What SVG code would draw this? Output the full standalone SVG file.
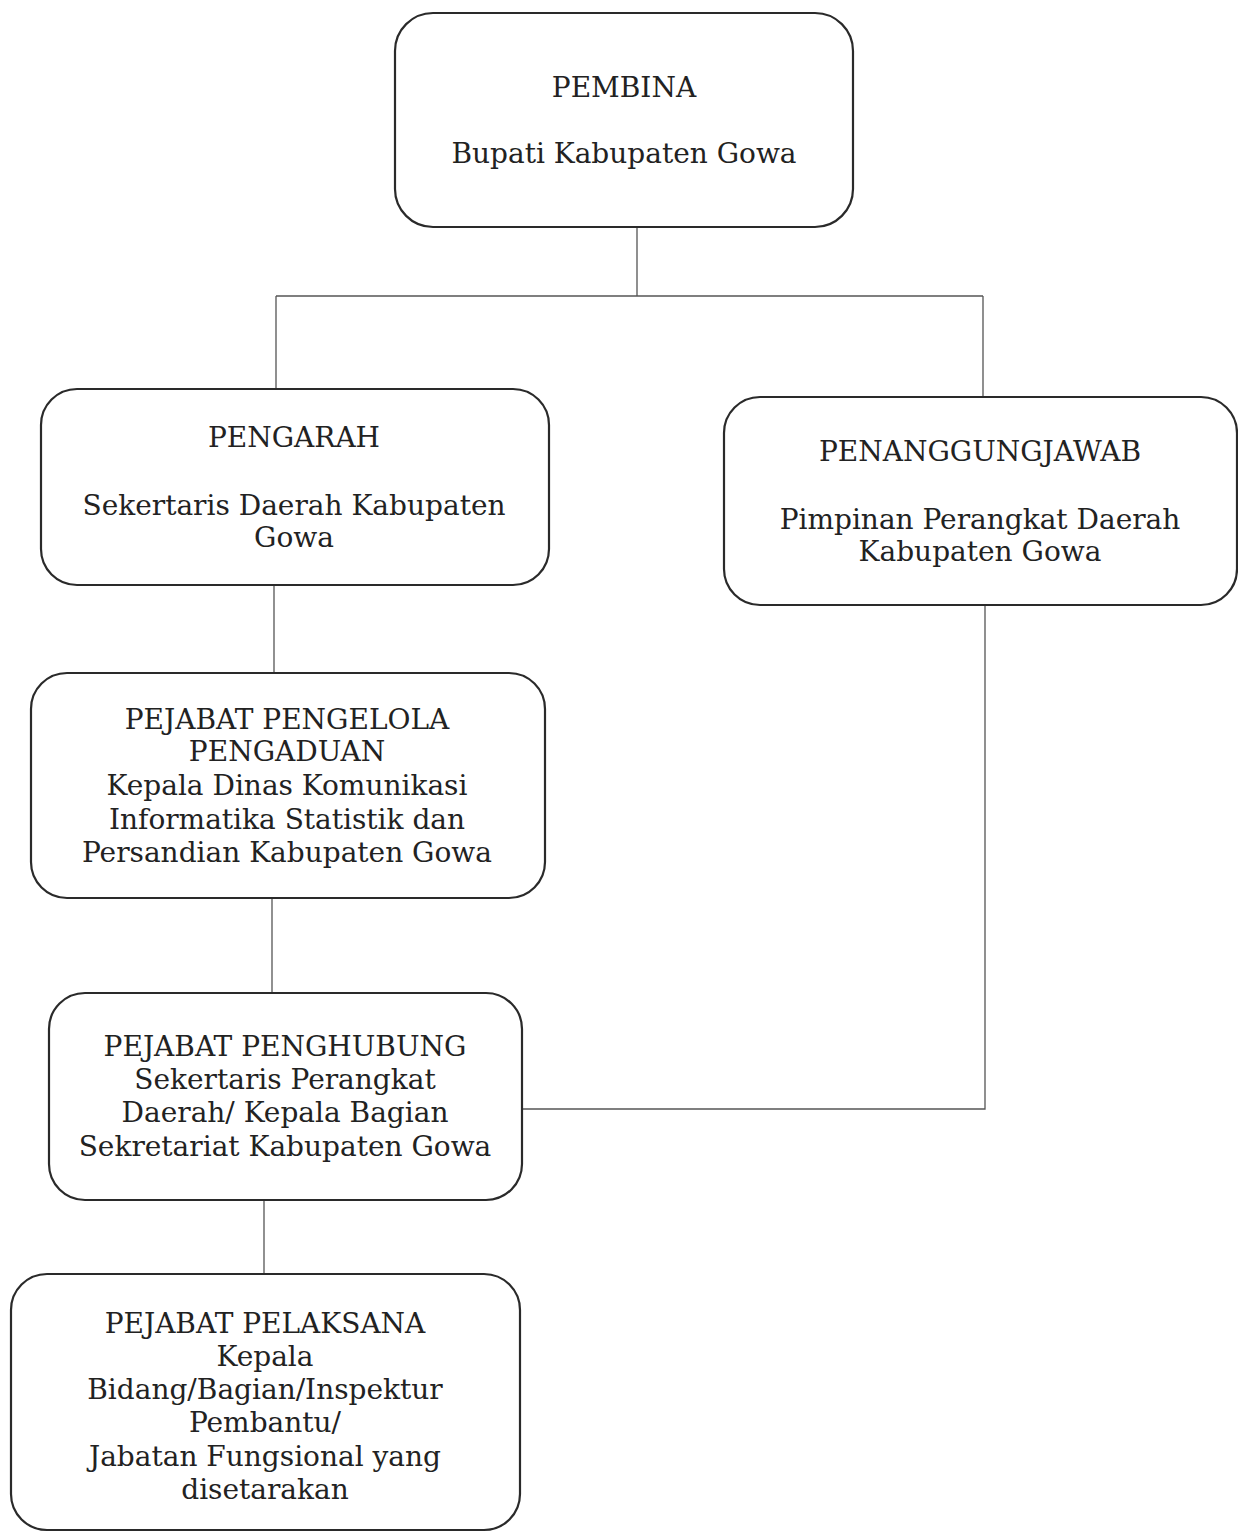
<svg xmlns="http://www.w3.org/2000/svg" width="1238" height="1533" viewBox="0 0 1238 1533">
<style>
.box{fill:#fff;stroke:#2a2a2a;stroke-width:2.2}
.t{font-family:"DejaVu Serif","Liberation Serif",serif;font-size:28px;fill:#222;text-anchor:middle}
.c{fill:none;stroke:#555;stroke-width:1.3}
</style>
<rect width="1238" height="1533" fill="#fff"/>
<g id="connectors">
<path class="c" d="M637 227 V296 M276 296 H983 M276 296 V388 M983 296 V396"/>
<path class="c" d="M274 585 V672"/>
<path class="c" d="M272 898 V992"/>
<path class="c" d="M264 1200 V1273"/>
<path class="c" d="M985 605 V1109 H522"/>
</g>
<g id="pembina">
<rect class="box" x="395" y="13" width="458" height="214" rx="38"/>
<text class="t" x="624" y="97">PEMBINA</text>
<text class="t" x="624" y="163">Bupati Kabupaten Gowa</text>
</g>
<g id="pengarah">
<rect class="box" x="41" y="389" width="508" height="196" rx="36"/>
<text class="t" x="294" y="447">PENGARAH</text>
<text class="t" x="294" y="515">Sekertaris Daerah Kabupaten</text>
<text class="t" x="294" y="547">Gowa</text>
</g>
<g id="penanggungjawab">
<rect class="box" x="724" y="397" width="513" height="208" rx="36"/>
<text class="t" x="980" y="461">PENANGGUNGJAWAB</text>
<text class="t" x="980" y="529">Pimpinan Perangkat Daerah</text>
<text class="t" x="980" y="561">Kabupaten Gowa</text>
</g>
<g id="pengelola">
<rect class="box" x="31" y="673" width="514" height="225" rx="36"/>
<text class="t" x="287" y="729">PEJABAT PENGELOLA</text>
<text class="t" x="287" y="761">PENGADUAN</text>
<text class="t" x="287" y="795">Kepala Dinas Komunikasi</text>
<text class="t" x="287" y="829">Informatika Statistik dan</text>
<text class="t" x="287" y="862">Persandian Kabupaten Gowa</text>
</g>
<g id="penghubung">
<rect class="box" x="49" y="993" width="473" height="207" rx="36"/>
<text class="t" x="285" y="1056">PEJABAT PENGHUBUNG</text>
<text class="t" x="285" y="1089">Sekertaris Perangkat</text>
<text class="t" x="285" y="1122">Daerah/ Kepala Bagian</text>
<text class="t" x="285" y="1156">Sekretariat Kabupaten Gowa</text>
</g>
<g id="pelaksana">
<rect class="box" x="11" y="1274" width="509" height="256" rx="36"/>
<text class="t" x="265" y="1333">PEJABAT PELAKSANA</text>
<text class="t" x="265" y="1366">Kepala</text>
<text class="t" x="265" y="1399">Bidang/Bagian/Inspektur</text>
<text class="t" x="265" y="1432">Pembantu/</text>
<text class="t" x="265" y="1466">Jabatan Fungsional yang</text>
<text class="t" x="265" y="1499">disetarakan</text>
</g>
</svg>
